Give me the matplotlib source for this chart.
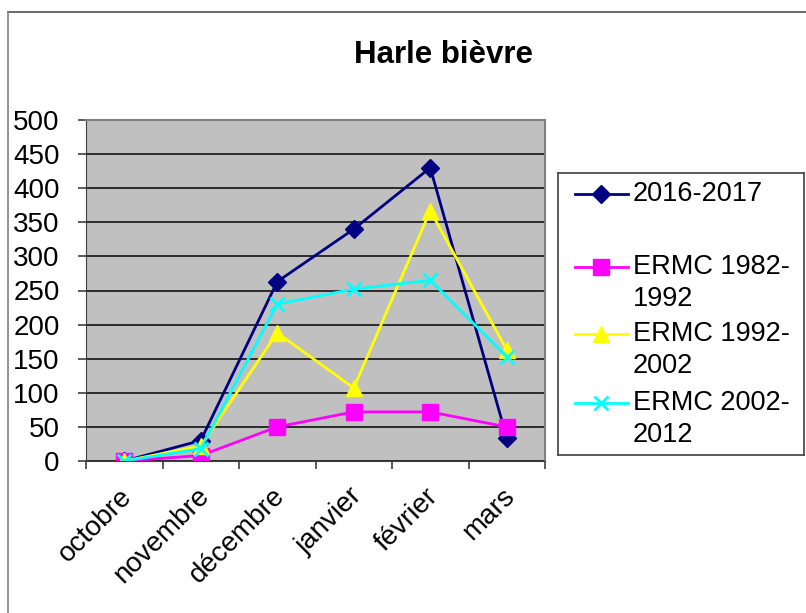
import matplotlib.pyplot as plt
from matplotlib.lines import Line2D
from matplotlib.transforms import ScaledTranslation

# data
mois = ["octobre", "novembre", "décembre", "janvier", "février", "mars"]
saison_2016 = [0, 30, 263, 340, 430, 34]
ermc_1982 = [0, 8, 50, 72, 72, 50]
ermc_1992 = [0, 22, 188, 107, 367, 163]
ermc_2002 = [0, 18, 230, 252, 265, 153]
noms = ["2016-2017", "ERMC 1982-\n1992", "ERMC 1992-\n2002", "ERMC 2002-\n2012"]

plt.rcParams['font.family'] = ['Liberation Sans', 'DejaVu Sans']

W, H = 806, 613
fig = plt.figure(figsize=(W / 100, H / 100), dpi=100)

# chart border (only top and left visible)
fig.add_artist(Line2D([8 / W, 1], [1 - 12 / H, 1 - 12 / H], transform=fig.transFigure,
                      color='#505050', linewidth=1.2))
fig.add_artist(Line2D([8 / W, 8 / W], [0, 1 - 12 / H], transform=fig.transFigure,
                      color='#808080', linewidth=1.2))

ax = fig.add_axes([86 / W, 1 - 461 / H, 459 / W, 341 / H])
ax.set_facecolor('#C0C0C0')

styles = [
    dict(color='#000080', marker='D', markersize=9),
    dict(color='#FF00FF', marker='s', markersize=11),
    dict(color='#FFFF00', marker='^', markersize=11),
    dict(color='#00FFFF', marker='x', markersize=10, markeredgewidth=2),
]
series = [saison_2016, ermc_1982, ermc_1992, ermc_2002]

x = list(range(len(mois)))
for vals, st in zip(series, styles):
    ax.plot(x, vals, linewidth=2, **st)

ax.set_xlim(-0.5, 5.5)
ax.set_ylim(0, 500)
ax.set_yticks(range(0, 501, 50))
ax.tick_params(axis='y', labelsize=20, length=6, width=1.2, direction='out', pad=13, color='#404040')
ax.yaxis.grid(True, color='#202020', linewidth=1.3)
ax.set_axisbelow(True)

ax.set_xticks(x)
ax.set_xticklabels(mois, rotation=45, ha='right', rotation_mode='anchor', fontsize=20)
ax.tick_params(axis='x', length=0, pad=16)
decale = ScaledTranslation(-5 / 100, 0, fig.dpi_scale_trans)
for lab in ax.get_xticklabels():
    lab.set_transform(lab.get_transform() + decale)
ax.set_xticks([i - 0.5 for i in range(len(mois) + 1)], minor=True)
ax.tick_params(axis='x', which='minor', length=6, width=1.2, direction='out', color='#404040')

ax.spines['top'].set_color('#808080')
ax.spines['right'].set_color('#808080')
ax.spines['top'].set_linewidth(1.5)
ax.spines['right'].set_linewidth(1.5)
ax.spines['left'].set_color('#404040')
ax.spines['bottom'].set_color('#404040')

fig.text(443 / W, 1 - 55 / H, "Harle bièvre", ha='center', va='center',
         fontsize=22.5, fontweight='bold')

# legend drawn by hand so the symbol sits on the first line of each label
lg = fig.add_axes([558 / W, 1 - 455 / H, 246 / W, 282 / H])
lg.set_xlim(558, 804)
lg.set_ylim(455, 173)
lg.set_xticks([])
lg.set_yticks([])
for s in lg.spines.values():
    s.set_color('#404040')
    s.set_linewidth(1.2)

ligne_y = [194, 267, 334, 403]
for nom, st, y0 in zip(noms, styles, ligne_y):
    lg.plot([575, 628], [y0, y0], color=st['color'], linewidth=2)
    lg.plot([601], [y0], linestyle='none', **st)
    for k, part in enumerate(nom.split("\n")):
        lg.text(633, y0 + k * 32, part, fontsize=19.5, va='center', ha='left')

fig.savefig("out.png", dpi=100)
